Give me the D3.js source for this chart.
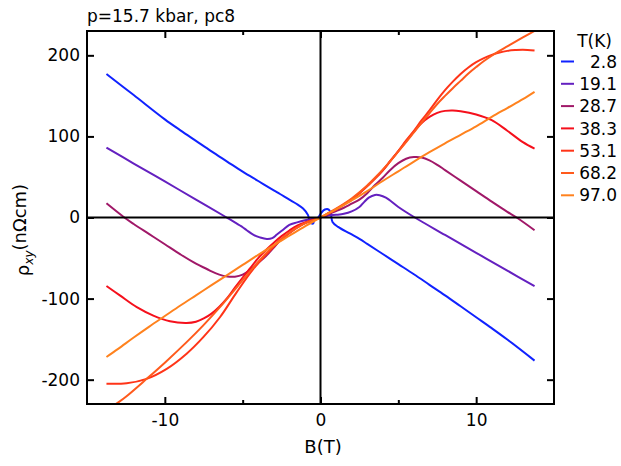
<!DOCTYPE html>
<html><head><meta charset="utf-8">
<script src="https://cdn.jsdelivr.net/npm/d3@7"></script>
<style>
body{margin:0;background:#fff}
text{font-family:"DejaVu Sans",sans-serif;fill:#000}
</style>
</head><body>
<svg id="c" width="621" height="466"></svg>
<script>
// ---------- data ----------
const titleText = "p=15.7 kbar, pc8";
const temps = ["2.8","19.1","28.7","38.3","53.1","68.2","97.0"];
const colors = ["#1022ff","#6420c0","#a01868","#f5101c","#ff3418","#ff5a1c","#ff821e"];
const xTicksMajor = [-10,0,10];
const xTicksMinor = [-5,5];
const yTicks = [-200,-100,0,100,200];

const b_2_8 = [-13.75,-12,-10,-9,-8,-7,-6,-5,-4,-3,-2.6,-2,-1.55,-1.12,-0.8,-0.69,-0.48,-0.37,-0.15,0.06,0.28,0.53,0.66,0.77,1.13,1.88,2.53,3,4,5,6,7,8,9,10,11,12,13.75];
const rho_2_8 = [177,151,121,107.5,94.5,81.5,69,56.5,45,33.5,29,22,17,11,3,-5,-7.5,-1.5,0,6,9.8,9.8,5,-5.4,-11.6,-19.7,-26.7,-32.5,-45,-57.5,-70,-83,-96,-109.5,-123,-136.5,-150.5,-176.5];

const b_19_1 = [-13.75,-12,-10,-8,-6.03,-5.5,-5,-4.74,-4.3,-3.9,-3.45,-3.1,-2.8,-2.4,-2,-1.5,-1,-0.5,0,0.5,1,1.5,2,2.5,2.8,3.1,3.5,3.8,4.2,5,6.06,8,10,12,13.75];
const rho_19_1 = [86.3,66.5,44.5,22,0,-6,-12,-15.7,-21.5,-24.5,-26.5,-25.5,-21,-15,-9,-6,-3.5,-1.5,0,2.5,3.3,4.5,7.5,13,19,24.5,27.8,27.5,24.5,13,0,-21.5,-43.5,-65.5,-84.7];

const b_28_7 = [-13.75,-12.6,-12,-11,-10,-9,-8,-7.3,-7,-6.5,-6,-5.5,-5,-4.5,-4,-3.5,-3,-2.6,-2,-1.5,-1,-0.5,0,0.5,1,1.5,2,2.5,3,3.5,4,4.5,5,5.5,6,6.5,7,7.5,8,9,10,11,12,12.6,13.75];
const rho_28_7 = [17.5,0,-8,-20.5,-33,-45.5,-57,-63.5,-66.5,-70.5,-72.8,-73,-70.5,-64,-56,-47.5,-37,-28.5,-19,-12,-7,-3,0,4,8,12,17,22,30,40,49,59,67,72.5,74.5,74,70.5,65,58.5,45.5,32.5,19.5,7,0,-15.7];

const b_38_3 = [-13.75,-12.89,-11.8,-10.74,-9.67,-8.6,-8,-7.5,-7,-6.5,-6,-5.5,-5,-4.5,-4,-3.5,-3,-2.5,-2,-1.5,-1,-0.5,0,0.5,1,1.5,2,2.5,3,3.5,4,4.5,5,5.5,6,6.5,7,7.5,8,8.5,9,10,11,12,13,13.75];
const rho_38_3 = [-84.5,-96,-110.6,-121,-128,-130,-128.5,-124.5,-118.5,-110,-99.5,-86.5,-74,-62,-50,-40,-31,-23,-16,-10,-6,-3,0,5,10,16,22,30,39,48,58,70,82,94,106,116.5,124,129,131.5,132,131,127,120,107,93,85];

const b_53_1 = [-13.75,-12.45,-11.17,-9.88,-8.6,-7.53,-6.46,-5.38,-4.31,-3.24,-2.17,-1.1,0,0.5,1,1.5,2,2.5,3,3.5,4,4.5,5,5.5,6,6.5,7,7.5,8,8.5,9,9.5,10,10.5,11,11.5,12,12.5,13,13.75];
const rho_53_1 = [-205,-204.4,-199,-186.7,-168,-147.6,-123,-92,-63.4,-40.7,-22,-7.9,0,5,10,16,22.5,30,38.5,48,58.5,70,82,95,107,120,132,145,157,167.5,177,185,191.5,196.5,200.5,203.5,205.5,206.5,207,206];

const b_68_2 = [-13.75,-13.2,-12.5,-11.17,-10,-8.6,-7.53,-6.46,-5.38,-4.31,-3.24,-2.17,-1.1,0,0.5,1,1.5,2,2.5,3,3.5,4,4.5,5,5.5,6,6.5,7,7.5,8,8.5,9,9.5,10,10.5,11,11.5,12,12.5,13,13.75];
const rho_68_2 = [-239,-231,-221,-199,-179,-153.7,-133,-110.6,-86,-61.4,-39,-21,-8,0,5.5,11,17,23.5,31,39.5,49,59,70,81.5,93,105,117,128.5,140,150,159.5,168.5,177.5,185.5,193,199.5,205.5,211,216.5,222,230];

const b_97_0 = [-13.75,-13,-12,-11,-10,-9,-8,-7,-6,-5,-4,-3,-2,-1,0,1,2,3,4,5,6,7,8,9,10,11,12,13,13.75];
const rho_97_0 = [-172,-162,-148,-134.5,-121.5,-108.5,-96,-83.5,-71,-58.5,-46,-34,-22.5,-11,0,10,21,32.5,45,57,69,80.5,91.5,102,112.5,124,135,146,155];

const fields = [b_2_8,b_19_1,b_28_7,b_38_3,b_53_1,b_68_2,b_97_0];
const rhos = [rho_2_8,rho_19_1,rho_28_7,rho_38_3,rho_53_1,rho_68_2,rho_97_0];

// ---------- drawing ----------
const svg = d3.select("#c");
const L=87, R=554, T=31, Bt=404;
const x = d3.scaleLinear().domain([-15,15]).range([L,R]);
const y = d3.scaleLinear().domain([-230,230]).range([Bt,T]);

svg.append("clipPath").attr("id","pc").append("rect")
  .attr("x",L).attr("y",T).attr("width",R-L).attr("height",Bt-T);

const line = d3.line().x(d=>x(d[0])).y(d=>y(d[1])).curve(d3.curveCatmullRom.alpha(0.5));
const g = svg.append("g").attr("clip-path","url(#pc)");
fields.forEach((bs,i)=>{
  const pts = bs.map((b,j)=>[b,rhos[i][j]]);
  g.append("path").attr("d",line(pts)).attr("fill","none")
   .attr("stroke",colors[i]).attr("stroke-width",2).attr("stroke-linejoin","round");
});

// zero lines
svg.append("line").attr("x1",L).attr("x2",R).attr("y1",y(0)).attr("y2",y(0)).attr("stroke","#000").attr("stroke-width",2);
svg.append("line").attr("x1",x(0)).attr("x2",x(0)).attr("y1",T).attr("y2",Bt).attr("stroke","#000").attr("stroke-width",2);

// axes
const fmt = d=>String(d);
function styleAxis(sel){
  sel.select(".domain").remove();
  sel.selectAll(".tick line").attr("stroke","#000").attr("stroke-width",2);
  sel.selectAll(".tick text").attr("font-size",17).attr("font-family","DejaVu Sans").attr("fill","#000");
}
svg.append("g").attr("transform",`translate(0,${Bt})`)
  .call(d3.axisBottom(x).tickValues(xTicksMajor).tickFormat(fmt).tickSize(-7).tickPadding(10)).call(styleAxis);
svg.append("g").attr("transform",`translate(0,${Bt})`)
  .call(d3.axisBottom(x).tickValues(xTicksMinor).tickFormat("").tickSize(-4)).call(styleAxis);
svg.append("g").attr("transform",`translate(0,${T})`)
  .call(d3.axisTop(x).tickValues(xTicksMajor).tickFormat("").tickSize(-7)).call(styleAxis);
svg.append("g").attr("transform",`translate(0,${T})`)
  .call(d3.axisTop(x).tickValues(xTicksMinor).tickFormat("").tickSize(-4)).call(styleAxis);
svg.append("g").attr("transform",`translate(${L},0)`)
  .call(d3.axisLeft(y).tickValues(yTicks).tickFormat(fmt).tickSize(-7).tickPadding(7)).call(styleAxis);
svg.append("g").attr("transform",`translate(${R},0)`)
  .call(d3.axisRight(y).tickValues(yTicks).tickFormat("").tickSize(-7)).call(styleAxis);

// frame
svg.append("rect").attr("x",L).attr("y",T).attr("width",R-L).attr("height",Bt-T)
  .attr("fill","none").attr("stroke","#000").attr("stroke-width",2);

// title
svg.append("text").attr("x",L).attr("y",21.5).attr("font-size",17).text(titleText);

// axis labels
svg.append("text").attr("x",323).attr("y",453).attr("text-anchor","middle").attr("font-size",18).text("B(T)");
const yl = svg.append("text").attr("transform","translate(28.5,230) rotate(-90)")
  .attr("text-anchor","middle").attr("font-size",18);
yl.append("tspan").text("ρ");
yl.append("tspan").attr("dy","0.35em").attr("font-size",12).attr("font-style","italic").text("xy");
yl.append("tspan").attr("dy","-0.35em").text("(nΩcm)");

// legend
svg.append("text").attr("x",612).attr("y",47).attr("text-anchor","end").attr("font-size",17).text("T(K)");
temps.forEach((t,i)=>{
  const cy = 61.5 + i*22.3;
  svg.append("line").attr("x1",561).attr("x2",574).attr("y1",cy).attr("y2",cy)
    .attr("stroke",colors[i]).attr("stroke-width",2);
  svg.append("text").attr("x",617).attr("y",cy).attr("dy","0.36em").attr("text-anchor","end")
    .attr("font-size",17).text(t);
});
</script>
</body></html>
